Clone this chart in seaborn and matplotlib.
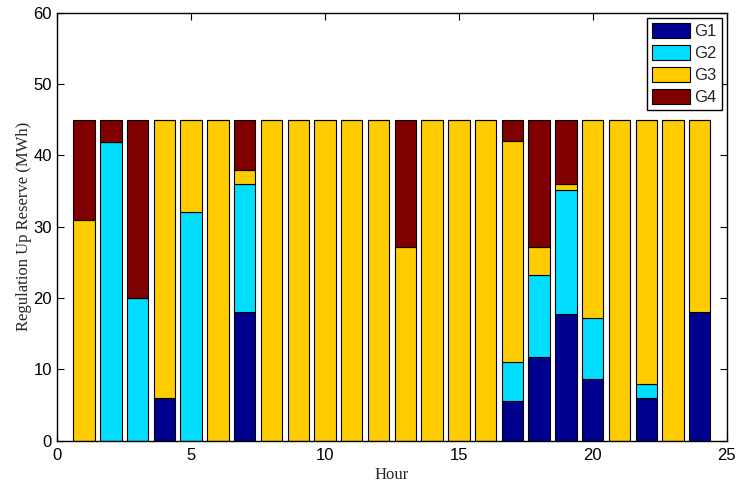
import matplotlib
matplotlib.use("Agg")
import matplotlib.pyplot as plt
import seaborn as sns
import pandas as pd
from matplotlib.patches import Patch

hours = list(range(1, 25))
g1 = [0, 0, 0, 6, 0, 0, 18, 0, 0, 0, 0, 0, 0, 0, 0, 0, 5.6, 11.7, 17.7, 8.6, 0, 6, 0, 18.1]
g2 = [0, 41.9, 20, 0, 32, 0, 18, 0, 0, 0, 0, 0, 0, 0, 0, 0, 5.5, 11.5, 17.4, 8.6, 0, 2, 0, 0]
g3 = [30.9, 0, 0, 39, 13, 45, 2, 45, 45, 45, 45, 45, 27.1, 45, 45, 45, 30.9, 3.9, 0.9, 27.8, 45, 37, 45, 26.9]
g4 = [14.1, 3.1, 25, 0, 0, 0, 7, 0, 0, 0, 0, 0, 17.9, 0, 0, 0, 3, 17.9, 9, 0, 0, 0, 0, 0]
series_names = ["G1", "G2", "G3", "G4"]
colors = {"G1": "#00008F", "G2": "#00DDFF", "G3": "#FFCC00", "G4": "#800000"}

rows = []
for name, vals in zip(series_names, [g1, g2, g3, g4]):
    for h, v in zip(hours, vals):
        rows.append({"Hour": h, "Gen": name, "Value": v})
df = pd.DataFrame(rows)

sns.set_style("ticks")
plt.rcParams["font.family"] = ["Liberation Sans", "DejaVu Sans"]
plt.rcParams["xtick.direction"] = "in"
plt.rcParams["ytick.direction"] = "in"

fig = plt.figure(figsize=(7.37, 4.87), dpi=100)
ax = fig.add_axes([0.0778, 0.095, 0.908, 0.879])

# histplot stacks the first hue level on top, so reverse to put G1 at the bottom
sns.histplot(data=df, x="Hour", weights="Value", hue="Gen",
             hue_order=series_names[::-1], multiple="stack", discrete=True,
             shrink=0.8, palette=colors, alpha=1, edgecolor="black",
             linewidth=0.8, legend=False, ax=ax)

ax.set_xlim(0, 25)
ax.set_ylim(0, 60)
ax.set_xticks([0, 5, 10, 15, 20, 25])
ax.set_yticks([0, 10, 20, 30, 40, 50, 60])
ax.tick_params(axis="both", which="both", top=True, right=True,
               direction="in", labelsize=12, length=5, width=0.8, colors="black")
ax.tick_params(axis="x", pad=5)
ax.tick_params(axis="y", pad=4)
for s in ax.spines.values():
    s.set_visible(True)
    s.set_linewidth(1.0)
    s.set_color("black")

ax.set_xlabel("Hour", family=["Liberation Serif"], fontsize=12, labelpad=3)
ax.set_ylabel("Regulation Up Reserve (MWh)", family=["Liberation Serif"], fontsize=12, labelpad=1)

handles = [Patch(facecolor=colors[n], edgecolor="black", linewidth=0.8, label=n) for n in series_names]
leg = ax.legend(handles=handles, loc="upper right", fontsize=12, frameon=True,
                fancybox=False, edgecolor="black", framealpha=1,
                handlelength=2.3, handleheight=1.0, handletextpad=0.25,
                labelspacing=0.35, borderpad=0.3, borderaxespad=0.3)
leg.get_frame().set_linewidth(1.0)

fig.savefig("out.png", dpi=100)
